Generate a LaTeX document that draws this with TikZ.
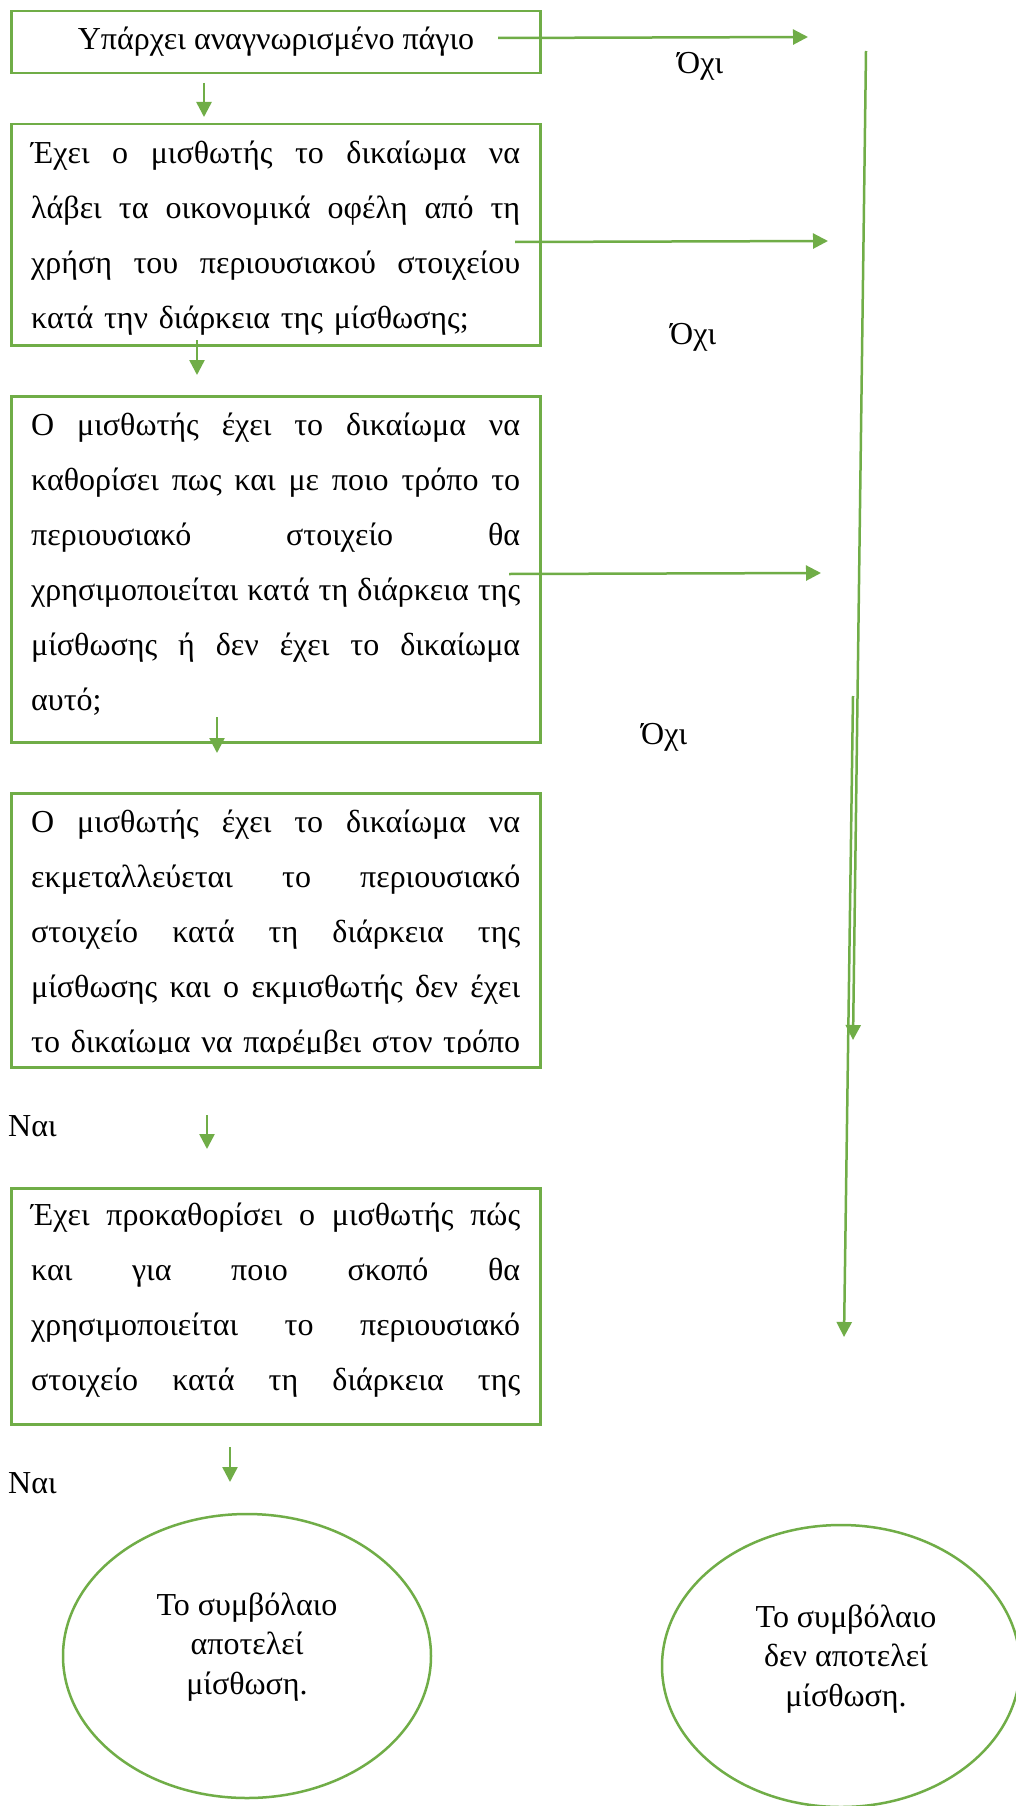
\documentclass[tikz,border=0pt]{standalone}
\usepackage{fontspec}
\setmainfont{Liberation Serif}
\usetikzlibrary{arrows.meta,shapes.geometric}
\definecolor{grn}{HTML}{70AD47}
\newcommand{\jline}[1]{\leavevmode\hbox to 489pt{\spaceskip=\fontdimen2\font plus 1fil\relax #1}}
\newcommand{\lline}[1]{\leavevmode\hbox to 489pt{#1\hfil}}
\newcommand{\fst}{\rule{0pt}{30pt}}
\begin{document}
\begin{tikzpicture}[x=1pt,y=-1pt,
  box/.style={draw=grn,line width=2.5pt,rectangle,inner sep=0pt,anchor=north west,minimum width=529pt},
  conn/.style={draw=grn,line width=2.5pt,-{Triangle[length=15pt,width=15pt]}},
  ell/.style={draw=grn,line width=2.5pt,ellipse,inner sep=0pt},
  txt/.style={anchor=north west,inner sep=0pt,font=\fontsize{32}{55}\selectfont,align=left,text width=489pt},
  etxt/.style={anchor=north,inner sep=0pt,font=\fontsize{32}{39.5}\selectfont,align=center},
  lbl/.style={inner sep=0pt,font=\fontsize{32}{38}\selectfont,anchor=base west}
]
\useasboundingbox[fill=white] (0,0) rectangle (1015,1806);

% boxes
\node[box,minimum height=62pt] (b1) at (10,10) {};
\node[anchor=base,inner sep=0pt,font=\fontsize{32}{38}\selectfont] (t1) at (276,50) {Υπάρχει αναγνωρισμένο πάγιο};

\node[box,minimum height=221pt] (b2) at (10,123) {};
\node[txt] (t2) at (31,133) {\fst\jline{Έχει ο μισθωτής το δικαίωμα να}\\
\jline{λάβει τα οικονομικά οφέλη από τη}\\
\jline{χρήση του περιουσιακού στοιχείου}\\
\lline{κατά την διάρκεια της μίσθωσης;}};

\node[box,minimum height=346pt] (b3) at (10,395) {};
\node[txt] (t3) at (31,405) {\fst\jline{Ο μισθωτής έχει το δικαίωμα να}\\
\jline{καθορίσει πως και με ποιο τρόπο το}\\
\jline{περιουσιακό στοιχείο θα}\\
\jline{χρησιμοποιείται κατά τη διάρκεια της}\\
\jline{μίσθωσης ή δεν έχει το δικαίωμα}\\
\lline{αυτό;}};

\begin{scope}
\clip (10,792) rectangle (539,1053);
\node[txt] (t4) at (31,802) {\fst\jline{Ο μισθωτής έχει το δικαίωμα να}\\
\jline{εκμεταλλεύεται το περιουσιακό}\\
\jline{στοιχείο κατά τη διάρκεια της}\\
\jline{μίσθωσης και ο εκμισθωτής δεν έχει}\\
\jline{το δικαίωμα να παρέμβει στον τρόπο}};
\end{scope}
\node[box,minimum height=274pt] (b4) at (10,792) {};

\node[box,minimum height=236pt] (b5) at (10,1187) {};
\node[txt] (t5) at (31,1195) {\fst\jline{Έχει προκαθορίσει ο μισθωτής πώς}\\
\jline{και για ποιο σκοπό θα}\\
\jline{χρησιμοποιείται το περιουσιακό}\\
\jline{στοιχείο κατά τη διάρκεια της}};

% ellipses
\node[ell,minimum width=368pt,minimum height=284pt] (e1) at (247,1656) {};
\node[etxt] (et1) at (247,1585) {\fst Το συμβόλαιο\\ αποτελεί\\ μίσθωση.};
\node[ell,minimum width=358pt,minimum height=282pt] (e2) at (841,1666) {};
\node[etxt] (et2) at (846,1597) {\fst Το συμβόλαιο\\ δεν αποτελεί\\ μίσθωση.};

% labels
\node[lbl] (o1) at (677,74) {Όχι};
\node[lbl] (o2) at (670,344) {Όχι};
\node[lbl] (o3) at (641,744) {Όχι};
\node[lbl] (n1) at (8,1136) {Ναι};
\node[lbl] (n2) at (8,1493) {Ναι};

% connector coordinates
\coordinate (a1s) at (498,38);  \coordinate (a1e) at (808,37);
\coordinate (a2s) at (204,83);  \coordinate (a2e) at (204,117);
\coordinate (a3s) at (515,242); \coordinate (a3e) at (828,241);
\coordinate (a4s) at (197,340); \coordinate (a4e) at (197,375);
\coordinate (a5s) at (509,574); \coordinate (a5e) at (821,573);
\coordinate (a6s) at (217,717); \coordinate (a6e) at (217,753);
\coordinate (a7s) at (207,1115); \coordinate (a7e) at (207,1149);
\coordinate (a8s) at (230,1447); \coordinate (a8e) at (230,1482);
\coordinate (las) at (866,51);  \coordinate (lae) at (853,1040);
\coordinate (lbs) at (853,696); \coordinate (lbe) at (844,1337);

\draw[conn] (a1s) -- (a1e);
\draw[conn] (a2s) -- (a2e);
\draw[conn] (a3s) -- (a3e);
\draw[conn] (a4s) -- (a4e);
\draw[conn] (a5s) -- (a5e);
\draw[conn] (a6s) -- (a6e);
\draw[conn] (a7s) -- (a7e);
\draw[conn] (a8s) -- (a8e);
\draw[conn] (las) -- (lae);
\draw[conn] (lbs) -- (lbe);
\end{tikzpicture}
\end{document}
